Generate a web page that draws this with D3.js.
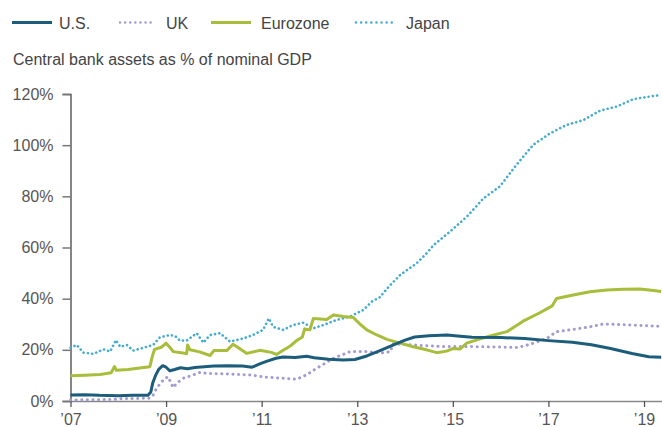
<!DOCTYPE html>
<html>
<head>
<meta charset="utf-8">
<script src="https://cdn.jsdelivr.net/npm/d3@7"></script>
<style>
  html, body { margin: 0; padding: 0; background: #fff; }
  svg text { font-family: "Liberation Sans", Arial, sans-serif; }
</style>
</head>
<body>
<svg id="chart" width="662" height="427"></svg>
<script>
// ---- Data (decimal year, % of nominal GDP) ----
const seriesNames = ["U.S.", "UK", "Eurozone", "Japan"];
const yTickValues = [0, 20, 40, 60, 80, 100, 120];
const xTickValues = [2007, 2009, 2011, 2013, 2015, 2017, 2019];

const usData = [[2007.0,2.3],[2007.3,2.4],[2007.6,2.2],[2008.0,2.1],[2008.3,2.2],[2008.62,2.2],[2008.68,3.5],[2008.72,7],[2008.78,10],[2008.85,12.5],[2008.93,13.8],[2009.0,13.2],[2009.08,11.8],[2009.18,12.3],[2009.3,13],[2009.45,12.6],[2009.6,13.1],[2009.8,13.4],[2010.0,13.7],[2010.3,13.8],[2010.6,13.7],[2010.8,13.2],[2010.96,14.5],[2011.1,15.5],[2011.3,16.7],[2011.45,17.2],[2011.7,17.0],[2011.94,17.5],[2012.1,16.9],[2012.4,16.3],[2012.7,16.0],[2012.95,16.2],[2013.2,17.6],[2013.45,19.5],[2013.76,21.9],[2014.0,23.8],[2014.2,25],[2014.5,25.5],[2014.88,25.8],[2015.1,25.4],[2015.4,24.9],[2016.0,24.8],[2016.5,24.4],[2017.0,23.6],[2017.5,23.0],[2017.9,22.0],[2018.3,20.5],[2018.75,18.6],[2019.1,17.3],[2019.36,17.1]];

const ukData = [[2007.0,0.4],[2007.5,0.5],[2007.9,0.6],[2008.1,1.0],[2008.4,1.0],[2008.65,1.1],[2008.72,2],[2008.8,5],[2008.94,8.2],[2009.04,9.5],[2009.15,5.2],[2009.22,6.9],[2009.36,8.9],[2009.57,10.2],[2009.71,11.2],[2009.85,10.8],[2010.2,10.6],[2010.76,10.2],[2011.1,9.3],[2011.45,8.9],[2011.73,8.5],[2011.94,10.2],[2012.15,12.8],[2012.5,16.7],[2012.85,19.3],[2013.2,19.3],[2013.5,18.8],[2013.7,19.3],[2013.74,22.3],[2014.17,21.9],[2014.75,21.3],[2015.3,21.3],[2015.92,21.1],[2016.36,20.9],[2016.64,22.3],[2016.97,24.5],[2017.17,27.1],[2017.52,28],[2017.87,29],[2018.15,30.1],[2018.56,29.8],[2019.12,29.4],[2019.36,29.2]];

const euroData = [[2007.0,9.9],[2007.3,10.1],[2007.62,10.4],[2007.85,11],[2007.92,13.5],[2007.96,12],[2008.2,12.3],[2008.45,12.9],[2008.66,13.4],[2008.72,18],[2008.76,20.2],[2008.9,21],[2009.0,22.6],[2009.1,20.5],[2009.15,19.3],[2009.35,18.8],[2009.43,18.5],[2009.45,21.9],[2009.5,20.0],[2009.7,19.2],[2009.92,17.8],[2010.0,19.7],[2010.27,19.7],[2010.4,22.2],[2010.48,21.2],[2010.69,18.6],[2010.96,19.8],[2011.2,19.0],[2011.31,18.2],[2011.45,19.8],[2011.6,21.5],[2011.73,23.6],[2011.85,25],[2011.9,28.2],[2012.01,27.8],[2012.08,32.2],[2012.36,31.9],[2012.5,33.6],[2012.71,33.0],[2012.92,32.6],[2013.06,30],[2013.2,27.8],[2013.41,25.8],[2013.62,24.1],[2013.9,22.6],[2014.17,21.2],[2014.45,20],[2014.66,18.9],[2014.87,19.5],[2015.0,20.5],[2015.15,20.3],[2015.29,22.6],[2015.57,24.3],[2015.78,25.4],[2016.13,27.1],[2016.47,31.2],[2016.82,34.5],[2017.08,37.2],[2017.17,40.1],[2017.52,41.4],[2017.87,42.7],[2018.22,43.4],[2018.56,43.7],[2018.91,43.8],[2019.2,43.2],[2019.36,42.8]];

const japanData = [[2007.0,20.8],[2007.13,21.9],[2007.27,18.9],[2007.48,18.4],[2007.69,20.2],[2007.83,19.3],[2007.95,23.8],[2008.04,21.2],[2008.18,21.9],[2008.31,19.7],[2008.52,20.8],[2008.73,21.9],[2008.87,24.9],[2009.08,25.8],[2009.19,25.4],[2009.29,23.6],[2009.43,23.6],[2009.64,26.5],[2009.78,22.8],[2009.92,25.8],[2010.13,26.5],[2010.34,23.2],[2010.62,24.5],[2010.82,25.8],[2011.03,27.8],[2011.15,32.3],[2011.24,29],[2011.45,27.8],[2011.66,29.7],[2011.87,30.6],[2012.08,28.4],[2012.29,29.7],[2012.57,31.7],[2012.85,33],[2013.13,35.6],[2013.3,38.8],[2013.47,40.5],[2013.65,44.5],[2013.9,49.3],[2014.24,53.8],[2014.45,57.7],[2014.6,61],[2014.94,66.2],[2015.29,72],[2015.64,79.2],[2015.98,83.8],[2016.33,92.3],[2016.68,100.1],[2017.03,104.6],[2017.38,107.9],[2017.73,109.8],[2018.08,113.5],[2018.43,115.1],[2018.78,118],[2019.12,119],[2019.36,119.6]];

// ---- Styles ----
const styles = {
  "U.S.":     { color: "#1d5d7c", width: 3,   dash: null },
  "UK":       { color: "#a39ad0", width: 3,   dash: "0.1 5.5" },
  "Eurozone": { color: "#a9bd3b", width: 3,   dash: null },
  "Japan":    { color: "#45abd0", width: 2.6, dash: "0.1 4.2" }
};
const seriesData = { "U.S.": usData, "UK": ukData, "Eurozone": euroData, "Japan": japanData };
const drawOrder = ["Japan", "UK", "Eurozone", "U.S."];

const svg = d3.select("#chart");
const x = d3.scaleLinear().domain([2007, 2019.37]).range([70.5, 661.7]);
const y = d3.scaleLinear().domain([0, 120]).range([401, 94]);

// Axes
const yAxis = d3.axisLeft(y).tickValues(yTickValues).tickSize(8).tickPadding(9)
  .tickFormat(d => d + "%");
const gy = svg.append("g").attr("transform", "translate(70.5,0)").call(yAxis);
gy.select(".domain").attr("stroke", "#444").attr("stroke-width", 1.3);
gy.selectAll(".tick line").attr("stroke", "#777").attr("stroke-width", 1.5);
gy.selectAll(".tick text").attr("font-size", 16).attr("fill", "#555");

const xAxis = d3.axisBottom(x).tickValues(xTickValues).tickSize(6).tickPadding(7)
  .tickSizeOuter(0)
  .tickFormat(d => "\u2019" + String(d).slice(2));
const gx = svg.append("g").attr("transform", "translate(0,401)").call(xAxis);
gx.select(".domain").attr("stroke", "#888").attr("stroke-width", 1.6)
  .attr("d", `M70.5,0.5H662`);
gx.selectAll(".tick line").attr("stroke", "#555").attr("stroke-width", 1.3);
gx.selectAll(".tick text").attr("font-size", 16).attr("fill", "#555");

// Lines
const line = d3.line().x(d => x(d[0])).y(d => y(d[1]));
drawOrder.forEach(name => {
  const s = styles[name];
  svg.append("path")
    .datum(seriesData[name])
    .attr("fill", "none")
    .attr("stroke", s.color)
    .attr("stroke-width", s.width)
    .attr("stroke-linecap", s.dash ? "round" : "butt")
    .attr("stroke-linejoin", "round")
    .attr("stroke-dasharray", s.dash)
    .attr("d", line);
});

// Legend
const legendX = [12, 120, 211, 356];
const legendTextX = [59, 166, 261, 406];
seriesNames.forEach((name, i) => {
  const s = styles[name];
  const lw = (name === "UK") ? 35 : (name === "Japan" ? 36 : 40);
  svg.append("line")
    .attr("x1", legendX[i]).attr("x2", legendX[i] + lw)
    .attr("y1", 22.5).attr("y2", 22.5)
    .attr("stroke", s.color)
    .attr("stroke-width", s.dash ? 2.4 : 3)
    .attr("stroke-linecap", s.dash ? "round" : "butt")
    .attr("stroke-dasharray", s.dash ? "0.1 5" : null);
  svg.append("text")
    .attr("x", legendTextX[i]).attr("y", 28.5)
    .attr("font-size", 16).attr("fill", "#444")
    .text(name);
});

// Subtitle
svg.append("text")
  .attr("x", 13).attr("y", 65)
  .attr("font-size", 16).attr("fill", "#444")
  .text("Central bank assets as % of nominal GDP");
</script>
</body>
</html>
